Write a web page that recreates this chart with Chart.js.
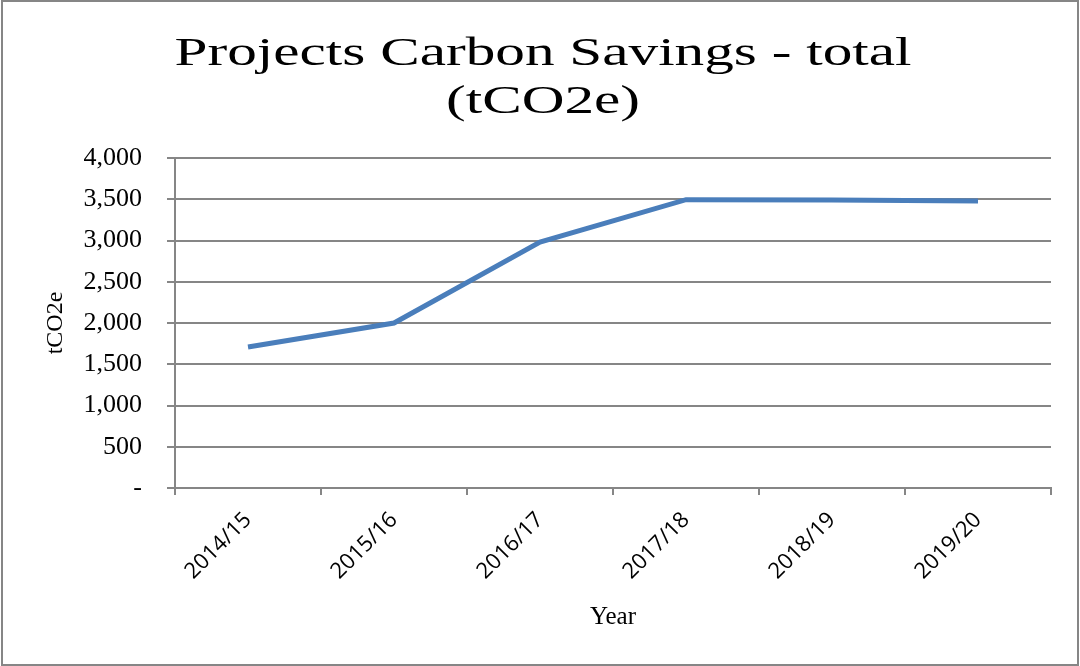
<!DOCTYPE html>
<html>
<head>
<meta charset="utf-8">
<script src="https://cdn.jsdelivr.net/npm/chart.js@4"></script>
<style>
    html, body { margin: 0; padding: 0; background: #fff; }
    #wrap { width: 1080px; height: 666px; }
</style>
</head>
<body>
<div id="wrap"><canvas id="carbonChart" width="1080" height="666"></canvas></div>
<script>
// Data
const years = ['2014/15', '2015/16', '2016/17', '2017/18', '2018/19', '2019/20'];
const savings = [1710, 2000, 2980, 3495, 3490, 3480];
const yTicks = [0, 500, 1000, 1500, 2000, 2500, 3000, 3500, 4000];
const titleLines = ['Projects Carbon Savings - total', '(tCO2e)'];

const gridGrey = '#868686';
const serif = '"Liberation Serif", "Times New Roman", serif';

// the original title is a wide, stretched serif; draw it scaled horizontally
const stretchedTitle = {
    id: 'stretchedTitle',
    afterDraw(chart) {
        const ctx = chart.ctx;
        ctx.save();
        ctx.font = '41px ' + serif;
        ctx.fillStyle = '#000';
        ctx.textAlign = 'center';
        ctx.textBaseline = 'alphabetic';
        const sx = 737 / ctx.measureText(titleLines[0]).width;
        ctx.translate(543, 0);
        ctx.scale(sx, 1);
        ctx.fillText(titleLines[0], 0, 65);
        ctx.fillText(titleLines[1], 0, 113);
        ctx.restore();
    }
};

// thin grey frame around the whole picture
const framePlugin = {
    id: 'frame',
    afterDraw(chart) {
        const ctx = chart.ctx;
        ctx.save();
        ctx.strokeStyle = gridGrey;
        ctx.lineWidth = 2;
        ctx.strokeRect(2, 1, chart.width - 4, chart.height - 2);
        ctx.restore();
    }
};

document.addEventListener('DOMContentLoaded', () => {
    const ctx = document.getElementById('carbonChart').getContext('2d');
    new Chart(ctx, {
        type: 'line',
        data: {
            labels: years,
            datasets: [{
                label: 'Carbon savings',
                data: savings,
                borderColor: '#4A7EBB',
                borderWidth: 5,
                pointRadius: 0,
                tension: 0,
                fill: false
            }]
        },
        options: {
            responsive: false,
            animation: false,
            layout: { padding: { left: 0, right: 29, top: 158, bottom: 0 } },
            plugins: {
                legend: { display: false },
                tooltip: { enabled: false },
                title: { display: false }
            },
            scales: {
                x: {
                    offset: true,
                    afterFit(scale) { scale.height = 178; },
                    grid: {
                        offset: true,
                        drawOnChartArea: false,
                        drawTicks: true,
                        tickLength: 7,
                        color: gridGrey,
                        lineWidth: 2
                    },
                    border: { color: gridGrey, width: 2 },
                    ticks: {
                        minRotation: 45,
                        maxRotation: 45,
                        padding: 12,
                        color: '#000',
                        font: { family: '"Open Sans", sans-serif', size: 22 }
                    },
                    title: {
                        display: true,
                        text: 'Year',
                        color: '#000',
                        font: { family: serif, size: 25 },
                        padding: { top: 0, bottom: 34 }
                    }
                },
                y: {
                    min: 0,
                    max: 4000,
                    afterFit(scale) { scale.width = 175; },
                    afterBuildTicks(scale) {
                        scale.ticks = yTicks.map(v => ({ value: v }));
                    },
                    grid: {
                        color: gridGrey,
                        lineWidth: 2,
                        tickLength: 8
                    },
                    border: { color: gridGrey, width: 2 },
                    ticks: {
                        padding: 25,
                        color: '#000',
                        font: { family: serif, size: 26 },
                        callback: function(value) {
                            return value === 0 ? '-' : value.toLocaleString('en-US');
                        }
                    },
                    title: {
                        display: true,
                        text: 'tCO2e',
                        color: '#000',
                        font: { family: serif, size: 24 },
                        padding: { top: 41, bottom: 0 }
                    }
                }
            }
        },
        plugins: [stretchedTitle, framePlugin]
    });
});
</script>
</body>
</html>
